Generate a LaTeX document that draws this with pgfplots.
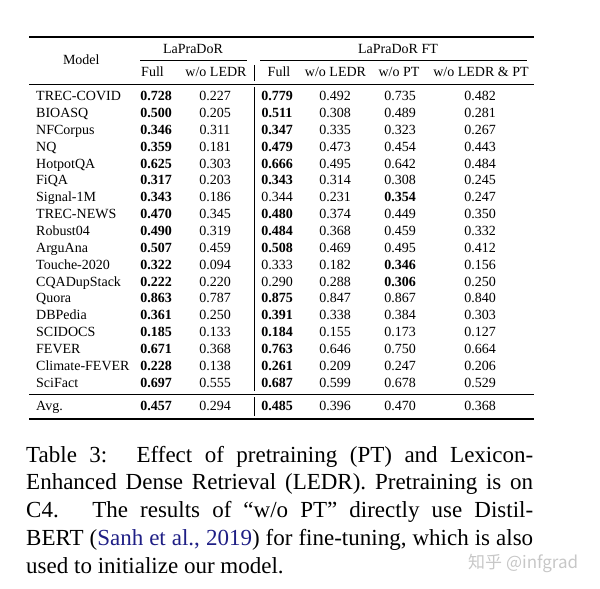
\documentclass[border=0pt]{standalone}
\usepackage{pgfplots}
\pgfplotsset{compat=1.18}
\usepackage{fontspec}
\setmainfont{Liberation Serif}
\newfontfamily\cjk{Noto Sans CJK SC}
\definecolor{citeblue}{rgb}{0.12,0.12,0.52}
\pgfplotsset{
  cell/.style={only marks, mark=none, nodes near coords, point meta=explicit symbolic,
    every node near coord/.append style={anchor=base, inner sep=0pt, text=black,
      font=\fontsize{14bp}{16bp}\selectfont}},
  lcell/.style={cell, every node near coord/.append style={anchor=base west}},
  cap/.style={only marks, mark=none, nodes near coords, point meta=explicit symbolic,
    every node near coord/.append style={anchor=base west, inner sep=0pt, text=black,
      font=\fontsize{23bp}{27bp}\selectfont}},
}
\begin{document}
\begin{tikzpicture}
\begin{axis}[width=600bp, height=589bp, scale only axis, hide axis, clip=false,
  xmin=0, xmax=600, ymin=0, ymax=589, y dir=reverse, anchor=south west, at={(0,0)}]
% frame for bounding box
\addplot[draw=none, forget plot] coordinates {(0,0) (600,589)};
% rules
\addplot[black, line width=1.3bp] coordinates {(29,37) (534,37)};
\addplot[black, line width=0.6bp] coordinates {(140,60) (247,60)};
\addplot[black, line width=0.6bp] coordinates {(260,60) (527,60)};
\addplot[black, line width=0.8bp] coordinates {(29,84) (534,84)};
\addplot[black, line width=0.8bp] coordinates {(29,394) (534,394)};
\addplot[black, line width=1.3bp] coordinates {(29,419) (534,419)};
\addplot[black, line width=0.7bp] coordinates {(254,65) (254,81)};
\addplot[black, line width=0.7bp] coordinates {(254,87) (254,391)};
\addplot[black, line width=0.7bp] coordinates {(254,397) (254,416)};
% headers
\addplot[cell] coordinates {(193,53.8) [LaPraDoR] (398,53.8) [LaPraDoR FT] (81.3,64.6) [Model]};
\addplot[cell] coordinates {(152.5,76.3) [Full] (216,76.3) [w/o LEDR] (279,76.3) [Full]
  (335.5,76.3) [w/o LEDR] (399,76.3) [w/o PT] (481,76.3) [{w/o LEDR \& PT}]};
% model names
\addplot[lcell] coordinates {
(36,100.5) [TREC-COVID] (36,117.4) [BIOASQ] (36,134.2) [NFCorpus] (36,151.1) [NQ]
(36,168.0) [HotpotQA] (36,184.9) [FiQA] (36,201.7) [Signal-1M] (36,218.6) [TREC-NEWS]
(36,235.5) [Robust04] (36,252.3) [ArguAna] (36,269.2) [Touche-2020] (36,286.1) [CQADupStack]
(36,302.9) [Quora] (36,319.8) [DBPedia] (36,336.7) [SCIDOCS] (36,353.6) [FEVER]
(36,370.4) [Climate-FEVER] (36,387.3) [SciFact] (36,410.8) [Avg.]};
% LaPraDoR Full
\addplot[cell] coordinates {
(156,100.5) [\textbf{0.728}] (156,117.4) [\textbf{0.500}] (156,134.2) [\textbf{0.346}] (156,151.1) [\textbf{0.359}]
(156,168.0) [\textbf{0.625}] (156,184.9) [\textbf{0.317}] (156,201.7) [\textbf{0.343}] (156,218.6) [\textbf{0.470}]
(156,235.5) [\textbf{0.490}] (156,252.3) [\textbf{0.507}] (156,269.2) [\textbf{0.322}] (156,286.1) [\textbf{0.222}]
(156,302.9) [\textbf{0.863}] (156,319.8) [\textbf{0.361}] (156,336.7) [\textbf{0.185}] (156,353.6) [\textbf{0.671}]
(156,370.4) [\textbf{0.228}] (156,387.3) [\textbf{0.697}] (156,410.8) [\textbf{0.457}]};
% LaPraDoR w/o LEDR
\addplot[cell] coordinates {
(215,100.5) [0.227] (215,117.4) [0.205] (215,134.2) [0.311] (215,151.1) [0.181]
(215,168.0) [0.303] (215,184.9) [0.203] (215,201.7) [0.186] (215,218.6) [0.345]
(215,235.5) [0.319] (215,252.3) [0.459] (215,269.2) [0.094] (215,286.1) [0.220]
(215,302.9) [0.787] (215,319.8) [0.250] (215,336.7) [0.133] (215,353.6) [0.368]
(215,370.4) [0.138] (215,387.3) [0.555] (215,410.8) [0.294]};
% FT Full
\addplot[cell] coordinates {
(277,100.5) [\textbf{0.779}] (277,117.4) [\textbf{0.511}] (277,134.2) [\textbf{0.347}] (277,151.1) [\textbf{0.479}]
(277,168.0) [\textbf{0.666}] (277,184.9) [\textbf{0.343}] (277,201.7) [0.344] (277,218.6) [\textbf{0.480}]
(277,235.5) [\textbf{0.484}] (277,252.3) [\textbf{0.508}] (277,269.2) [0.333] (277,286.1) [0.290]
(277,302.9) [\textbf{0.875}] (277,319.8) [\textbf{0.391}] (277,336.7) [\textbf{0.184}] (277,353.6) [\textbf{0.763}]
(277,370.4) [\textbf{0.261}] (277,387.3) [\textbf{0.687}] (277,410.8) [\textbf{0.485}]};
% FT w/o LEDR
\addplot[cell] coordinates {
(335,100.5) [0.492] (335,117.4) [0.308] (335,134.2) [0.335] (335,151.1) [0.473]
(335,168.0) [0.495] (335,184.9) [0.314] (335,201.7) [0.231] (335,218.6) [0.374]
(335,235.5) [0.368] (335,252.3) [0.469] (335,269.2) [0.182] (335,286.1) [0.288]
(335,302.9) [0.847] (335,319.8) [0.338] (335,336.7) [0.155] (335,353.6) [0.646]
(335,370.4) [0.209] (335,387.3) [0.599] (335,410.8) [0.396]};
% FT w/o PT
\addplot[cell] coordinates {
(400,100.5) [0.735] (400,117.4) [0.489] (400,134.2) [0.323] (400,151.1) [0.454]
(400,168.0) [0.642] (400,184.9) [0.308] (400,201.7) [\textbf{0.354}] (400,218.6) [0.449]
(400,235.5) [0.459] (400,252.3) [0.495] (400,269.2) [\textbf{0.346}] (400,286.1) [\textbf{0.306}]
(400,302.9) [0.867] (400,319.8) [0.384] (400,336.7) [0.173] (400,353.6) [0.750]
(400,370.4) [0.247] (400,387.3) [0.678] (400,410.8) [0.470]};
% FT w/o LEDR & PT
\addplot[cell] coordinates {
(480,100.5) [0.482] (480,117.4) [0.281] (480,134.2) [0.267] (480,151.1) [0.443]
(480,168.0) [0.484] (480,184.9) [0.245] (480,201.7) [0.247] (480,218.6) [0.350]
(480,235.5) [0.332] (480,252.3) [0.412] (480,269.2) [0.156] (480,286.1) [0.250]
(480,302.9) [0.840] (480,319.8) [0.303] (480,336.7) [0.127] (480,353.6) [0.664]
(480,370.4) [0.206] (480,387.3) [0.529] (480,410.8) [0.368]};
% caption
\addplot[cap] coordinates {
(26,462) [{\makebox[507bp][s]{Table 3:\hspace{0.35em} Effect of pretraining (PT) and Lexicon-}}]
(26,489.75) [{\makebox[507bp][s]{Enhanced Dense Retrieval (LEDR). Pretraining is on}}]
(26,517.5) [{\makebox[507bp][s]{C4.\hspace{0.3em} The results of “w/o PT” directly use Distil-}}]
(26,545.25) [{\makebox[507bp][s]{BERT (\textcolor{citeblue}{Sanh et al., 2019}) for fine-tuning, which is also}}]
(26,573) [{used to initialize our model.}]};
% watermark
\addplot[only marks, mark=none, nodes near coords, point meta=explicit symbolic,
  every node near coord/.append style={anchor=base west, inner sep=0pt, text=black!22,
    font=\cjk\fontsize{17bp}{20bp}\selectfont}]
  coordinates {(468,568) [{知乎 @infgrad}]};
\end{axis}
\pgfresetboundingbox
\useasboundingbox (0,0) rectangle (600bp,589bp);
\end{tikzpicture}
\end{document}
